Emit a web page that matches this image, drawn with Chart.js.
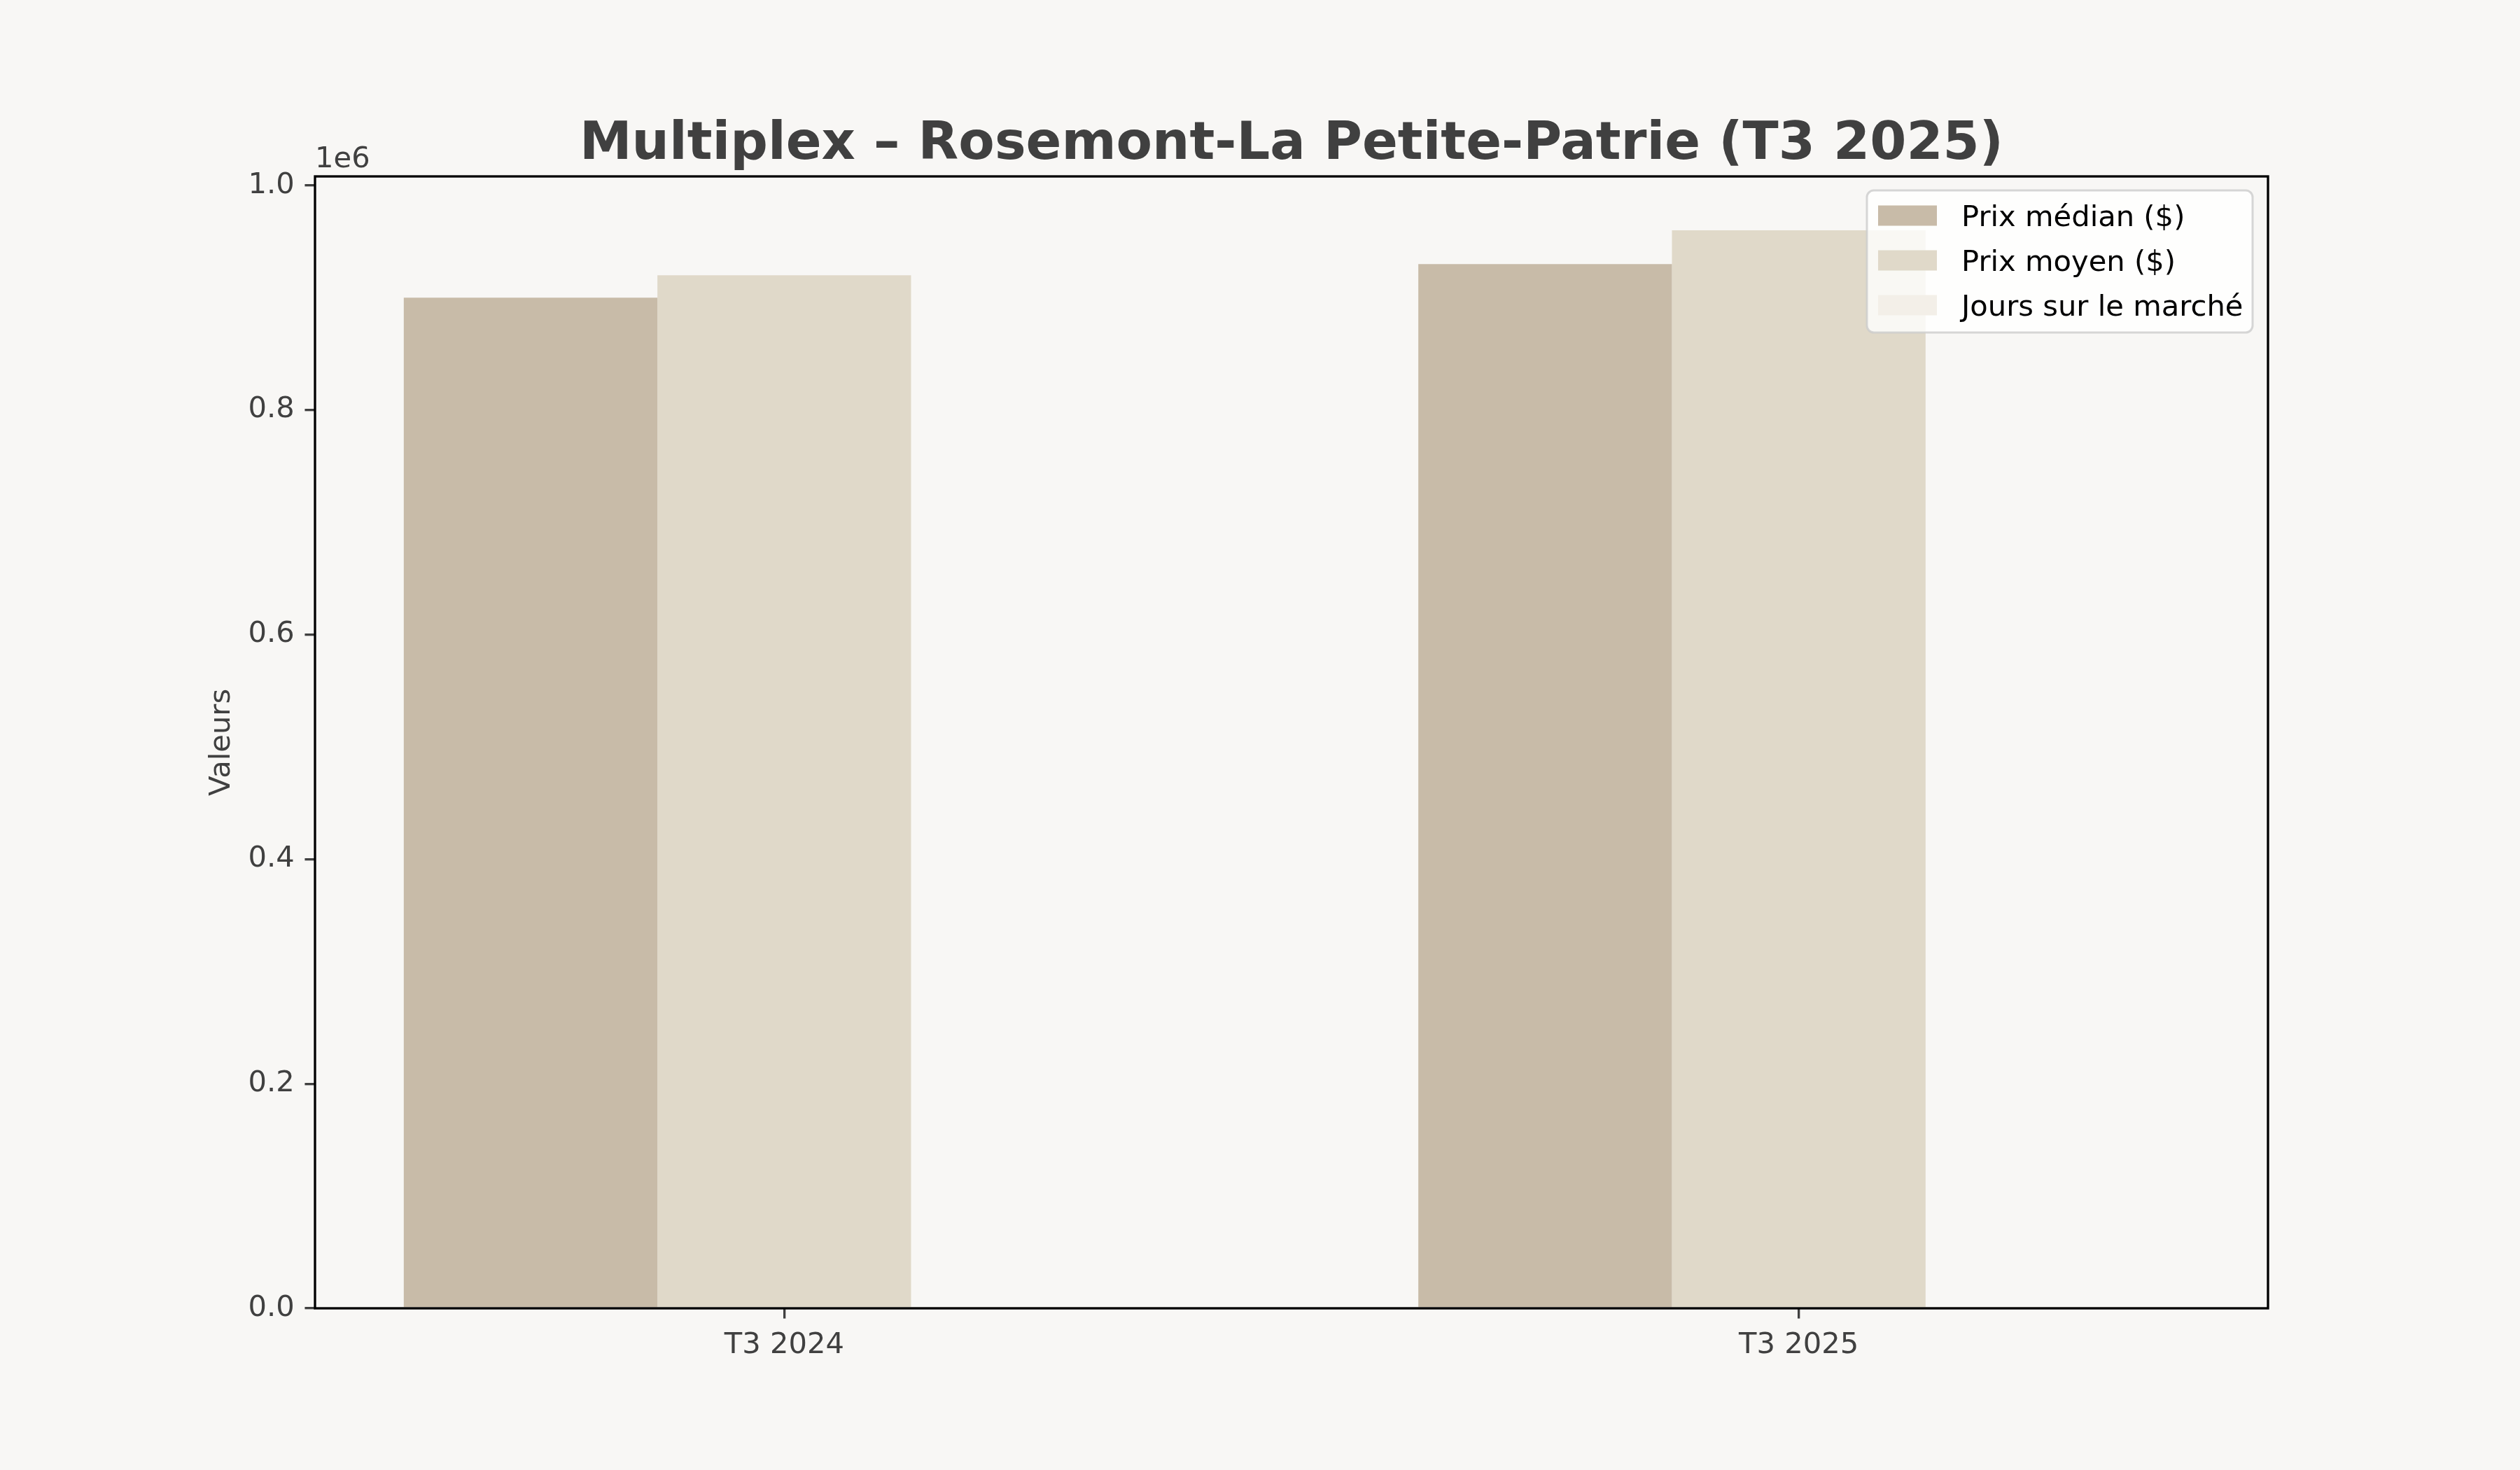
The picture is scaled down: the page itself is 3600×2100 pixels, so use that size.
<!DOCTYPE html>
<html lang="fr">
<head>
<meta charset="utf-8">
<title>Multiplex – Rosemont-La Petite-Patrie (T3 2025)</title>
<script src="https://cdn.jsdelivr.net/npm/chart.js@4.4.1/dist/chart.umd.min.js"></script>
<style>
  html, body { margin: 0; padding: 0; background: #f8f7f5; }
  #wrap { width: 3600px; height: 2100px; }
</style>
</head>
<body>
<div id="wrap"><canvas id="mc" width="3600" height="2100"></canvas></div>
<script>
// ── Data ─────────────────────────────────────────────────────
const categories = ['T3 2024', 'T3 2025'];
const seriesLabels = ['Prix médian ($)', 'Prix moyen ($)', 'Jours sur le marché'];
const prixMedian = [900000, 930000];
const prixMoyen = [920000, 960000];
const joursMarche = [32, 38];
const yTicks = [0.0, 0.2, 0.4, 0.6, 0.8, 1.0]; // in units of 1e6
const yExp = 1e6;

// ── Look ─────────────────────────────────────────────────────
const FONT = "'DejaVu Sans', 'Liberation Sans', sans-serif";
const TEXT = '#404040';
const colors = ['#c8bba8', '#e0d9c9', '#f3efe8'];
const PT = 300 / 72;          // matplotlib points -> px at 300 dpi
const barW = 0.25;

Chart.defaults.font.family = FONT;
Chart.defaults.color = TEXT;

// x range like matplotlib autoscale (5% margins around the bars)
const lo = -1.5 * barW, hi = categories.length - 1 + 1.5 * barW;
const xPad = 0.05 * (hi - lo);
const yMax = Math.max(...prixMedian, ...prixMoyen, ...joursMarche) * 1.05;

const series = [prixMedian, prixMoyen, joursMarche];

// ── Frame, title, offset text, legend ───────────────────────
const decor = {
  id: 'decor',
  afterDatasetsDraw(chart) {
    const { ctx, chartArea: a } = chart;
    ctx.save();
    ctx.strokeStyle = '#000';
    ctx.lineWidth = 0.8 * PT;
    ctx.strokeRect(a.left, a.top, a.right - a.left, a.bottom - a.top);
    ctx.restore();
  },
  afterDraw(chart) {
    const { ctx, chartArea: a } = chart;
    ctx.save();

    // title
    ctx.fillStyle = TEXT;
    ctx.font = `bold ${18 * PT}px ${FONT}`;
    ctx.textAlign = 'center';
    ctx.textBaseline = 'alphabetic';
    ctx.fillText('Multiplex – Rosemont-La Petite-Patrie (T3 2025)', (a.left + a.right) / 2, a.top - 25);

    // offset text
    ctx.font = `${10 * PT}px ${FONT}`;
    ctx.textAlign = 'left';
    ctx.fillText('1e6', a.left, a.top - 13);

    // legend
    const bx = a.right - 22, by = a.top + 20;
    const w = 551, h = 203, r = 10;
    ctx.beginPath();
    ctx.roundRect(bx - w, by, w, h, r);
    ctx.fillStyle = 'rgba(255,255,255,0.8)';
    ctx.fill();
    ctx.strokeStyle = 'rgba(204,204,204,0.8)';
    ctx.lineWidth = 3;
    ctx.stroke();

    ctx.font = `${10 * PT}px ${FONT}`;
    ctx.textBaseline = 'alphabetic';
    chart.data.datasets.forEach((ds, i) => {
      const cy = by + 36 + i * 64;
      ctx.fillStyle = ds.backgroundColor;
      ctx.fillRect(bx - w + 16, cy - 14.5, 84, 29);
      ctx.fillStyle = '#000';
      ctx.fillText(ds.label, bx - w + 135, cy + 14.5);
    });
    ctx.restore();
  }
};

new Chart(document.getElementById('mc'), {
  type: 'bar',
  data: {
    datasets: series.map((arr, k) => ({
      label: seriesLabels[k],
      data: arr.map((v, i) => ({ x: i, y: v })),
      backgroundColor: colors[k],
      borderWidth: 0,
      categoryPercentage: 3 * barW,
      barPercentage: 1.0
    }))
  },
  options: {
    responsive: false,
    animation: false,
    devicePixelRatio: 1,
    layout: { padding: { top: 252, right: 360, bottom: 0, left: 0 } },
    plugins: {
      legend: { display: false },
      title: { display: false },
      tooltip: { enabled: false }
    },
    scales: {
      x: {
        type: 'linear',
        min: lo - xPad,
        max: hi + xPad,
        offset: false,
        afterBuildTicks: s => { s.ticks = categories.map((c, i) => ({ value: i })); },
        afterFit: s => { s.height = 231; },
        border: { display: false },
        grid: {
          offset: false,
          drawOnChartArea: false,
          drawTicks: true,
          tickLength: 3.5 * PT,
          color: TEXT,
          lineWidth: 0.8 * PT
        },
        ticks: {
          callback: v => categories[v] ?? '',
          font: { size: 10 * PT },
          color: TEXT,
          padding: 14,
          maxRotation: 0,
          autoSkip: false
        }
      },
      y: {
        min: 0,
        max: yMax,
        afterBuildTicks: s => { s.ticks = yTicks.map(v => ({ value: v * yExp })); },
        afterFit: s => { s.width = 450; },
        border: { display: false },
        grid: {
          drawOnChartArea: false,
          drawTicks: true,
          tickLength: 3.5 * PT,
          color: TEXT,
          lineWidth: 0.8 * PT
        },
        ticks: {
          callback: v => (v / yExp).toFixed(1),
          font: { size: 10 * PT },
          color: TEXT,
          padding: 3.5 * PT
        },
        title: {
          display: true,
          text: 'Valeurs',
          color: TEXT,
          font: { size: 10 * PT },
          padding: { top: 292, bottom: 0 }
        }
      }
    }
  },
  plugins: [decor]
});
</script>
</body>
</html>
